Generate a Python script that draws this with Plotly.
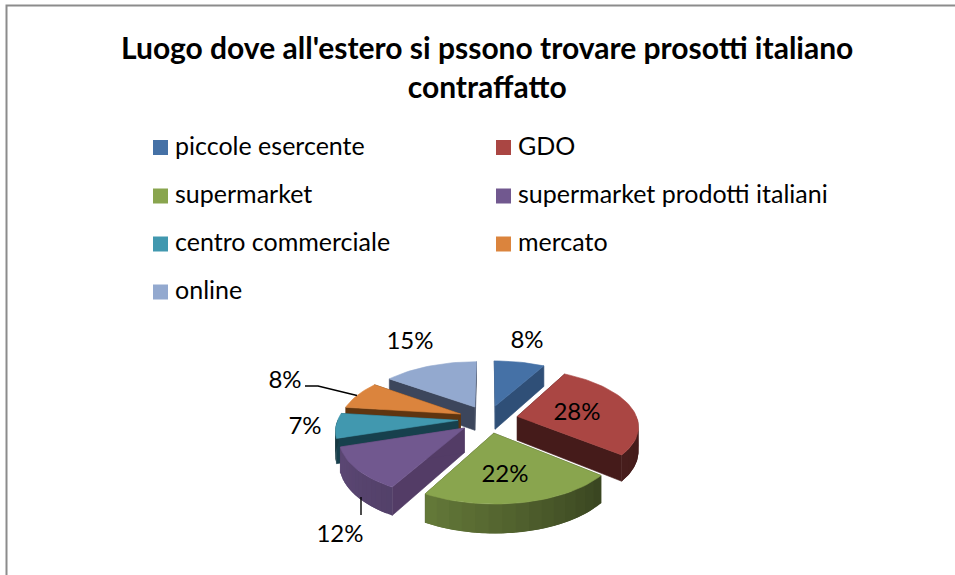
import numpy as np
import plotly.graph_objects as go

# Chart content
TITLE = "Luogo dove all'estero si pssono trovare prosotti italiano<br>contraffatto"
categories = ["piccole esercente", "GDO", "supermarket", "supermarket prodotti italiani",
              "centro commerciale", "mercato", "online"]
shares = [8, 28, 22, 12, 7, 8, 15]
top_colors = ["#4571a6", "#aa4643", "#89a54e", "#71588f", "#4198af", "#db843d", "#93a9cf"]
cut_colors = ["#2f4f77", "#451b1a", "#3a4520", "#533c66", "#17404d", "#5f3510", "#3c465c"]
wall_gain = [1, 1, 1, 1, 0.45, 1, 1]

# Pie projection, in screen pixels
CX, CY = 488, 419
RX, RY = 120, 55.5
PERSPECTIVE = 0.15
EXPLODE = 0.25
DEPTH = 24
PAINT_ORDER = [6, 0, 5, 1, 4, 3, 2]

# Wall shade against clock angle, dark on the right, lighter towards the left
SHADE_ANGLES = [0, 90, 130, 209, 270, 360]
SHADE_LEVELS = [0.4, 0.4, 0.42, 0.74, 0.85, 0.85]


def project(x, y, drop=0.0):
    scale = 1.0 / (1.0 - PERSPECTIVE * y)
    return CX + RX * x * scale, CY + RY * y * scale + DEPTH * scale * drop


def shade(hex_color, level):
    rgb = [int(hex_color[i:i + 2], 16) for i in (1, 3, 5)]
    return "rgb({},{},{})".format(*[int(c * level) for c in rgb])


fig = go.Figure()


def polygon(xs, ys, color, name, width=0.6):
    xs, ys = list(xs), list(ys)
    fig.add_trace(go.Scatter(x=xs + xs[:1], y=ys + ys[:1], mode="lines", fill="toself", fillcolor=color,
                             line=dict(color=color, width=width), name=name, hoverinfo="name",
                             showlegend=False))


edges = np.cumsum([0] + shares) / sum(shares) * 2 * np.pi

for i in PAINT_ORDER:
    a0, a1 = edges[i], edges[i + 1]
    mid = (a0 + a1) / 2
    ox, oy = EXPLODE * np.sin(mid), -EXPLODE * np.cos(mid)
    arc = np.linspace(a0, a1, max(6, int(shares[i] * 1.5)) + 1)
    ax, ay = ox + np.sin(arc), oy - np.cos(arc)

    # Radial cut faces
    for a in (a0, a1):
        ex, ey = ox + np.sin(a), oy - np.cos(a)
        p = [project(ox, oy), project(ex, ey), project(ex, ey, 1), project(ox, oy, 1)]
        polygon([q[0] for q in p], [q[1] for q in p], cut_colors[i], categories[i])

    # Curved outer wall. Each strip runs under the next one so no seam shows,
    # and strips facing away from the viewer are skipped.
    fine = np.linspace(a0, a1, 61)
    fx, fy = ox + np.sin(fine), oy - np.cos(fine)
    for k in range(0, len(fine) - 1, 4):
        stop = min(k + 8, len(fine) - 1)
        centre = (fine[k] + fine[min(k + 4, len(fine) - 1)]) / 2
        if np.cos(centre) > 0:
            continue
        top = [project(fx[j], fy[j]) for j in range(k, stop + 1)]
        low = [project(fx[j], fy[j], 1) for j in range(stop, k - 1, -1)]
        p = top + low
        level = np.interp(np.degrees(centre), SHADE_ANGLES, SHADE_LEVELS) * wall_gain[i]
        polygon([q[0] for q in p], [q[1] for q in p], shade(top_colors[i], level), categories[i], 0)

    # Top face
    tx, ty = project(np.r_[ox, ax], np.r_[oy, ay])
    polygon(tx, ty, top_colors[i], categories[i])

# Leader lines for the two outside labels that need them
for lx, ly in (([305, 318, 357], [386, 386, 395.5]), ([361, 361], [497, 515])):
    fig.add_trace(go.Scatter(x=lx, y=ly, mode="lines", line=dict(color="#000000", width=1.4),
                             hoverinfo="skip", showlegend=False))

# Percentage labels
label_x = [527, 577, 505, 340, 305, 285, 410]
label_y = [341.5, 413.5, 475.5, 535.5, 427.5, 381.5, 342.5]
fig.add_trace(go.Scatter(x=label_x, y=label_y, mode="text", text=[f"{v}%" for v in shares],
                         textposition="middle center", hoverinfo="skip", showlegend=False,
                         textfont=dict(family="Lato", size=24, color="#000000")))

# Two-column key
key_x = [160.5, 503.5, 160.5, 503.5, 160.5, 503.5, 160.5]
key_y = [147.5, 147.5, 196, 196, 244, 244, 292]
fig.add_trace(go.Scatter(x=key_x, y=key_y, mode="markers", hoverinfo="skip", showlegend=False,
                         marker=dict(symbol="square", size=15, color=top_colors, line=dict(width=0))))
fig.add_trace(go.Scatter(x=[v + 14.5 for v in key_x], y=[v + 1 for v in key_y], mode="text", text=categories,
                         textposition="middle right", hoverinfo="skip", showlegend=False,
                         textfont=dict(family="Lato", size=25, color="#000000")))

# Frame of the chart area: only its top and left edges fall inside the view
fig.add_trace(go.Scatter(x=[6.5, 6.5, 955], y=[575, 5.5, 5.5], mode="lines", hoverinfo="skip",
                         showlegend=False, line=dict(color="#8c8c8c", width=2)))

fig.add_annotation(x=487, y=66, xref="x", yref="y", text=f"<b>{TITLE}</b>", showarrow=False,
                   font=dict(family="Lato", size=30, color="#000000"), align="center", yanchor="middle")

fig.update_layout(
    width=955, height=575, margin=dict(l=0, r=0, t=0, b=0),
    paper_bgcolor="#ffffff", plot_bgcolor="#ffffff", showlegend=False,
    xaxis=dict(range=[0, 955], visible=False, fixedrange=True),
    yaxis=dict(range=[575, 0], visible=False, fixedrange=True),
)
fig.write_html("out.html")
